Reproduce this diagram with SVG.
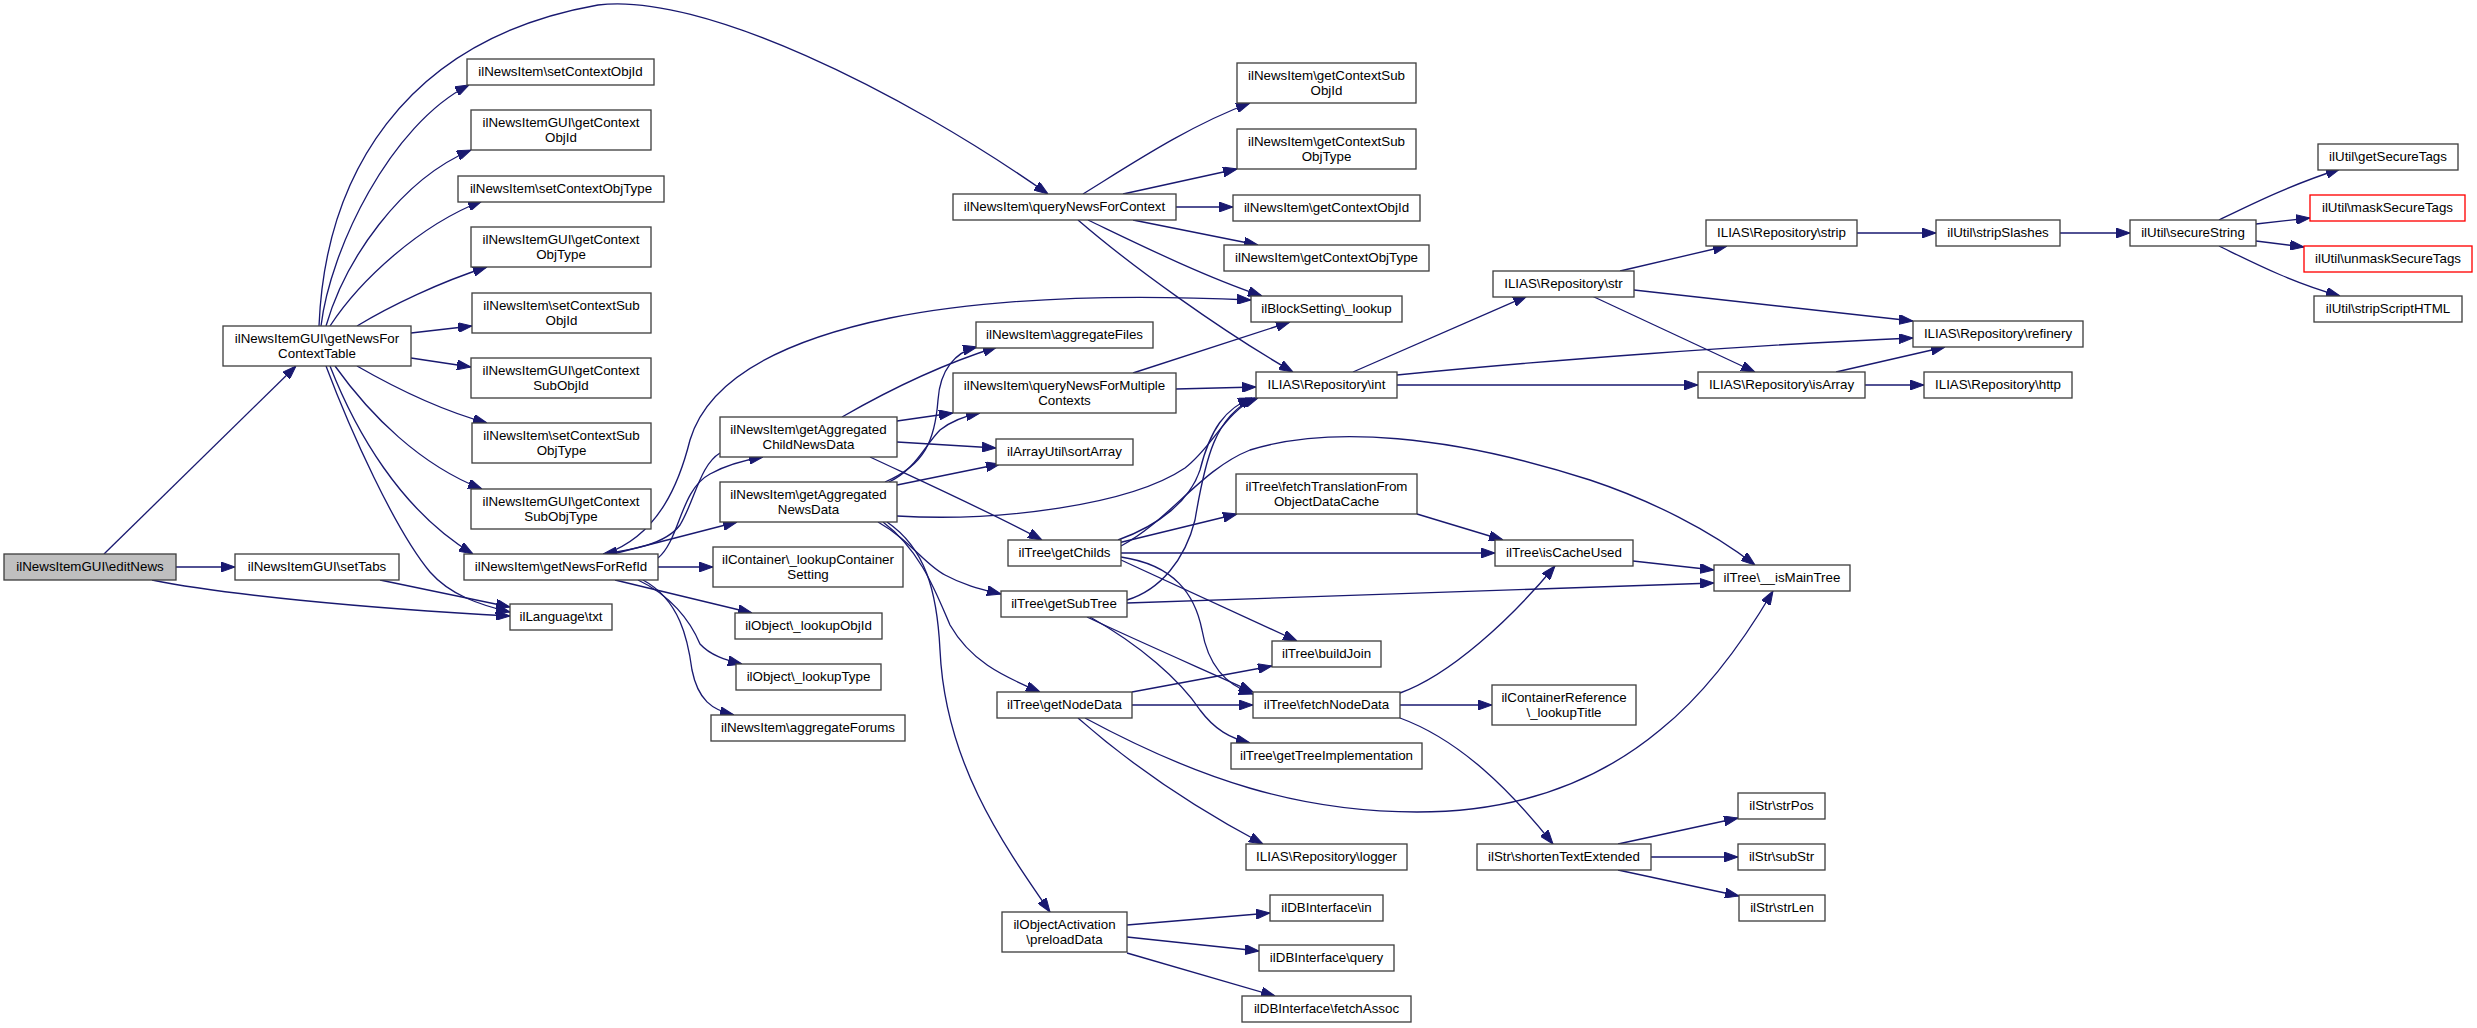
<svg xmlns="http://www.w3.org/2000/svg" width="2477" height="1028" viewBox="0 0 2477 1028">
<defs>
<style>
.n rect{fill:#fff;stroke:#404040;stroke-width:1.33}
.root rect{fill:#bfbfbf}
.red rect{stroke:#ff0000}
.n text{font-family:"Liberation Sans",Arial,Helvetica,sans-serif;font-size:13.33px;text-anchor:middle;fill:#000}
#edges path{fill:none;stroke:#191970;stroke-width:1.33;marker-end:url(#arr)}
</style>
<marker id="arr" markerUnits="userSpaceOnUse" markerWidth="14" markerHeight="10" refX="14" refY="5" orient="auto" viewBox="0 0 14 10">
<path d="M0,0L14,5L0,10z" fill="#191970" stroke="#191970" stroke-width="1"/>
</marker>
</defs>
<rect width="2477" height="1028" fill="#fff"/>
<g id="edges">
<path d="M104,554 L296,366"/>
<path d="M176,567 L235,567"/>
<path d="M152,580 C220,594 360,608 510,616"/>
<path d="M380,580 L510,607"/>
<path d="M326,366 C350,430 395,530 430,572 C450,595 480,605 510,612"/>
<path d="M330,366 C355,430 400,510 473,554"/>
<path d="M335,366 C370,415 420,465 482,489"/>
<path d="M357,366 C390,385 440,410 487,423"/>
<path d="M411,358 L471,367"/>
<path d="M411,333 L472,326"/>
<path d="M357,326 C390,306 440,282 487,267"/>
<path d="M330,326 C360,280 420,225 482,201"/>
<path d="M326,326 C345,260 400,180 471,150"/>
<path d="M321,326 C330,250 390,125 469,85"/>
<path d="M319,326 C325,180 400,40 598,5 C700,-8 900,90 1048,194"/>
<path d="M658,558 C680,540 680,490 710,474 C728,464 745,460 763,457"/>
<path d="M720,453 C700,465 695,500 680,525 C665,545 630,550 603,554"/>
<path d="M605,554 C660,535 680,480 690,440 C705,390 760,345 890,318 C980,300 1100,293 1251,300"/>
<path d="M613,554 L737,522"/>
<path d="M658,567 L713,567"/>
<path d="M615,580 L752,613"/>
<path d="M638,580 C670,595 690,620 700,644 C710,655 725,660 742,664"/>
<path d="M643,580 C680,600 688,640 692,670 C698,700 712,710 734,715"/>
<path d="M842,417 C875,398 930,368 997,347"/>
<path d="M897,421 L953,413"/>
<path d="M897,442 L996,448"/>
<path d="M870,457 C930,485 990,512 1042,540"/>
<path d="M885,482 C925,465 935,440 938,400 C940,370 955,352 977,347"/>
<path d="M889,482 C915,470 925,445 940,430 C950,422 965,416 980,413"/>
<path d="M897,485 L1000,464"/>
<path d="M897,516 C1000,522 1130,505 1185,468 C1215,445 1225,410 1258,398"/>
<path d="M878,522 C910,540 925,565 945,575 C965,586 985,590 1001,594"/>
<path d="M883,522 C920,550 935,590 950,625 C970,660 1000,675 1040,692"/>
<path d="M887,522 C925,548 937,590 940,650 C945,760 1000,840 1050,912"/>
<path d="M1083,194 C1130,165 1190,125 1250,103"/>
<path d="M1123,194 L1237,169"/>
<path d="M1176,207 L1233,207"/>
<path d="M1133,220 L1258,245"/>
<path d="M1088,220 C1130,240 1200,275 1262,296"/>
<path d="M1078,220 C1130,265 1220,330 1293,372"/>
<path d="M1133,373 L1290,322"/>
<path d="M1176,389 L1256,387"/>
<path d="M1353,372 L1527,296"/>
<path d="M1397,375 C1550,360 1750,345 1913,338"/>
<path d="M1397,385 L1698,385"/>
<path d="M1620,271 L1727,246"/>
<path d="M1634,290 L1913,321"/>
<path d="M1592,296 L1755,372"/>
<path d="M1857,233 L1936,233"/>
<path d="M2060,233 L2130,233"/>
<path d="M2219,220 C2250,205 2290,185 2340,169"/>
<path d="M2256,224 L2310,218"/>
<path d="M2256,241 L2304,247"/>
<path d="M2219,246 C2250,261 2290,282 2340,296"/>
<path d="M1836,372 L1945,347"/>
<path d="M1865,385 L1924,385"/>
<path d="M1118,540 C1160,525 1190,500 1200,470 C1210,430 1225,408 1252,398"/>
<path d="M1118,543 L1237,514"/>
<path d="M1121,553 L1495,553"/>
<path d="M1121,546 C1170,520 1200,470 1250,450 C1330,425 1450,435 1590,480 C1650,500 1710,530 1755,565"/>
<path d="M1121,560 L1297,641"/>
<path d="M1121,557 C1175,565 1195,595 1202,630 C1208,665 1225,685 1253,694"/>
<path d="M1127,600 C1160,590 1185,560 1195,520 C1205,460 1215,415 1255,398"/>
<path d="M1127,603 L1714,583"/>
<path d="M1087,617 C1140,642 1200,668 1253,692"/>
<path d="M1090,617 C1140,645 1180,680 1200,710 C1215,730 1230,738 1250,743"/>
<path d="M1132,692 L1272,666"/>
<path d="M1132,705 L1253,705"/>
<path d="M1085,718 C1200,780 1300,812 1417,812 C1520,812 1600,780 1660,730 C1710,690 1750,630 1773,591"/>
<path d="M1078,718 C1120,755 1180,800 1263,844"/>
<path d="M1417,514 L1503,540"/>
<path d="M1400,693 C1450,675 1510,620 1555,566"/>
<path d="M1400,705 L1492,705"/>
<path d="M1400,718 C1460,740 1510,790 1553,844"/>
<path d="M1633,561 L1714,570"/>
<path d="M1618,844 L1738,818"/>
<path d="M1651,857 L1738,857"/>
<path d="M1618,870 L1739,896"/>
<path d="M1127,925 L1270,913"/>
<path d="M1127,937 L1259,951"/>
<path d="M1127,953 L1275,996"/>
</g>
<g id="n_editNews" class="n root"><rect x="4" y="554" width="172" height="26"/><text x="90" y="571">ilNewsItemGUI\editNews</text></g>
<g id="n_setTabs" class="n"><rect x="235" y="554" width="164" height="26"/><text x="317" y="571">ilNewsItemGUI\setTabs</text></g>
<g id="n_getNewsForContextTable" class="n"><rect x="223" y="326" width="188" height="40"/><text x="317" y="343">ilNewsItemGUI\getNewsFor</text><text x="317" y="358">ContextTable</text></g>
<g id="n_setContextObjId" class="n"><rect x="467" y="59" width="187" height="26"/><text x="560.5" y="76">ilNewsItem\setContextObjId</text></g>
<g id="n_guiGetContextObjId" class="n"><rect x="471" y="110" width="180" height="40"/><text x="561" y="127">ilNewsItemGUI\getContext</text><text x="561" y="142">ObjId</text></g>
<g id="n_setContextObjType" class="n"><rect x="458" y="176" width="206" height="26"/><text x="561" y="193">ilNewsItem\setContextObjType</text></g>
<g id="n_guiGetContextObjType" class="n"><rect x="471" y="227" width="180" height="40"/><text x="561" y="244">ilNewsItemGUI\getContext</text><text x="561" y="259">ObjType</text></g>
<g id="n_setContextSubObjId" class="n"><rect x="472" y="293" width="179" height="40"/><text x="561.5" y="310">ilNewsItem\setContextSub</text><text x="561.5" y="325">ObjId</text></g>
<g id="n_guiGetContextSubObjId" class="n"><rect x="471" y="358" width="180" height="40"/><text x="561" y="375">ilNewsItemGUI\getContext</text><text x="561" y="390">SubObjId</text></g>
<g id="n_setContextSubObjType" class="n"><rect x="472" y="423" width="179" height="40"/><text x="561.5" y="440">ilNewsItem\setContextSub</text><text x="561.5" y="455">ObjType</text></g>
<g id="n_guiGetContextSubObjType" class="n"><rect x="471" y="489" width="180" height="40"/><text x="561" y="506">ilNewsItemGUI\getContext</text><text x="561" y="521">SubObjType</text></g>
<g id="n_getNewsForRefId" class="n"><rect x="464" y="554" width="194" height="26"/><text x="561" y="571">ilNewsItem\getNewsForRefId</text></g>
<g id="n_txt" class="n"><rect x="510" y="604" width="102" height="26"/><text x="561" y="621">ilLanguage\txt</text></g>
<g id="n_getAggregatedChildNewsData" class="n"><rect x="720" y="417" width="177" height="40"/><text x="808.5" y="434">ilNewsItem\getAggregated</text><text x="808.5" y="449">ChildNewsData</text></g>
<g id="n_getAggregatedNewsData" class="n"><rect x="720" y="482" width="177" height="40"/><text x="808.5" y="499">ilNewsItem\getAggregated</text><text x="808.5" y="514">NewsData</text></g>
<g id="n_lookupContainerSetting" class="n"><rect x="713" y="547" width="190" height="40"/><text x="808" y="564">ilContainer\_lookupContainer</text><text x="808" y="579">Setting</text></g>
<g id="n_lookupObjId" class="n"><rect x="735" y="613" width="147" height="26"/><text x="808.5" y="630">ilObject\_lookupObjId</text></g>
<g id="n_lookupType" class="n"><rect x="736" y="664" width="145" height="26"/><text x="808.5" y="681">ilObject\_lookupType</text></g>
<g id="n_aggregateForums" class="n"><rect x="711" y="715" width="194" height="26"/><text x="808" y="732">ilNewsItem\aggregateForums</text></g>
<g id="n_queryNewsForContext" class="n"><rect x="953" y="194" width="223" height="26"/><text x="1064.5" y="211">ilNewsItem\queryNewsForContext</text></g>
<g id="n_aggregateFiles" class="n"><rect x="976" y="322" width="177" height="26"/><text x="1064.5" y="339">ilNewsItem\aggregateFiles</text></g>
<g id="n_queryNewsForMultipleContexts" class="n"><rect x="953" y="373" width="223" height="40"/><text x="1064.5" y="390">ilNewsItem\queryNewsForMultiple</text><text x="1064.5" y="405">Contexts</text></g>
<g id="n_sortArray" class="n"><rect x="996" y="439" width="137" height="26"/><text x="1064.5" y="456">ilArrayUtil\sortArray</text></g>
<g id="n_getChilds" class="n"><rect x="1008" y="540" width="113" height="26"/><text x="1064.5" y="557">ilTree\getChilds</text></g>
<g id="n_getSubTree" class="n"><rect x="1001" y="591" width="126" height="26"/><text x="1064" y="608">ilTree\getSubTree</text></g>
<g id="n_getNodeData" class="n"><rect x="997" y="692" width="135" height="26"/><text x="1064.5" y="709">ilTree\getNodeData</text></g>
<g id="n_preloadData" class="n"><rect x="1002" y="912" width="125" height="40"/><text x="1064.5" y="929">ilObjectActivation</text><text x="1064.5" y="944">\preloadData</text></g>
<g id="n_getContextSubObjId" class="n"><rect x="1237" y="63" width="179" height="40"/><text x="1326.5" y="80">ilNewsItem\getContextSub</text><text x="1326.5" y="95">ObjId</text></g>
<g id="n_getContextSubObjType" class="n"><rect x="1237" y="129" width="179" height="40"/><text x="1326.5" y="146">ilNewsItem\getContextSub</text><text x="1326.5" y="161">ObjType</text></g>
<g id="n_getContextObjId" class="n"><rect x="1233" y="195" width="187" height="26"/><text x="1326.5" y="212">ilNewsItem\getContextObjId</text></g>
<g id="n_getContextObjType" class="n"><rect x="1224" y="245" width="205" height="26"/><text x="1326.5" y="262">ilNewsItem\getContextObjType</text></g>
<g id="n_blockSettingLookup" class="n"><rect x="1251" y="296" width="151" height="26"/><text x="1326.5" y="313">ilBlockSetting\_lookup</text></g>
<g id="n_int" class="n"><rect x="1256" y="372" width="141" height="26"/><text x="1326.5" y="389">ILIAS\Repository\int</text></g>
<g id="n_fetchTranslation" class="n"><rect x="1236" y="474" width="181" height="40"/><text x="1326.5" y="491">ilTree\fetchTranslationFrom</text><text x="1326.5" y="506">ObjectDataCache</text></g>
<g id="n_buildJoin" class="n"><rect x="1272" y="641" width="109" height="26"/><text x="1326.5" y="658">ilTree\buildJoin</text></g>
<g id="n_fetchNodeData" class="n"><rect x="1253" y="692" width="147" height="26"/><text x="1326.5" y="709">ilTree\fetchNodeData</text></g>
<g id="n_getTreeImplementation" class="n"><rect x="1231" y="743" width="191" height="26"/><text x="1326.5" y="760">ilTree\getTreeImplementation</text></g>
<g id="n_logger" class="n"><rect x="1246" y="844" width="161" height="26"/><text x="1326.5" y="861">ILIAS\Repository\logger</text></g>
<g id="n_dbIn" class="n"><rect x="1270" y="895" width="113" height="26"/><text x="1326.5" y="912">ilDBInterface\in</text></g>
<g id="n_dbQuery" class="n"><rect x="1259" y="945" width="135" height="26"/><text x="1326.5" y="962">ilDBInterface\query</text></g>
<g id="n_dbFetchAssoc" class="n"><rect x="1242" y="996" width="169" height="26"/><text x="1326.5" y="1013">ilDBInterface\fetchAssoc</text></g>
<g id="n_str" class="n"><rect x="1493" y="271" width="141" height="26"/><text x="1563.5" y="288">ILIAS\Repository\str</text></g>
<g id="n_isCacheUsed" class="n"><rect x="1495" y="540" width="138" height="26"/><text x="1564" y="557">ilTree\isCacheUsed</text></g>
<g id="n_lookupTitle" class="n"><rect x="1492" y="685" width="144" height="40"/><text x="1564" y="702">ilContainerReference</text><text x="1564" y="717">\_lookupTitle</text></g>
<g id="n_shortenTextExtended" class="n"><rect x="1477" y="844" width="174" height="26"/><text x="1564" y="861">ilStr\shortenTextExtended</text></g>
<g id="n_strip" class="n"><rect x="1706" y="220" width="151" height="26"/><text x="1781.5" y="237">ILIAS\Repository\strip</text></g>
<g id="n_isArray" class="n"><rect x="1698" y="372" width="167" height="26"/><text x="1781.5" y="389">ILIAS\Repository\isArray</text></g>
<g id="n_isMainTree" class="n"><rect x="1714" y="565" width="136" height="26"/><text x="1782" y="582">ilTree\__isMainTree</text></g>
<g id="n_strPos" class="n"><rect x="1738" y="793" width="87" height="26"/><text x="1781.5" y="810">ilStr\strPos</text></g>
<g id="n_subStr" class="n"><rect x="1738" y="844" width="87" height="26"/><text x="1781.5" y="861">ilStr\subStr</text></g>
<g id="n_strLen" class="n"><rect x="1739" y="895" width="86" height="26"/><text x="1782" y="912">ilStr\strLen</text></g>
<g id="n_stripSlashes" class="n"><rect x="1936" y="220" width="124" height="26"/><text x="1998" y="237">ilUtil\stripSlashes</text></g>
<g id="n_refinery" class="n"><rect x="1913" y="321" width="170" height="26"/><text x="1998" y="338">ILIAS\Repository\refinery</text></g>
<g id="n_http" class="n"><rect x="1924" y="372" width="148" height="26"/><text x="1998" y="389">ILIAS\Repository\http</text></g>
<g id="n_secureString" class="n"><rect x="2130" y="220" width="126" height="26"/><text x="2193" y="237">ilUtil\secureString</text></g>
<g id="n_getSecureTags" class="n"><rect x="2318" y="144" width="140" height="26"/><text x="2388" y="161">ilUtil\getSecureTags</text></g>
<g id="n_maskSecureTags" class="n red"><rect x="2310" y="195" width="155" height="26"/><text x="2387.5" y="212">ilUtil\maskSecureTags</text></g>
<g id="n_unmaskSecureTags" class="n red"><rect x="2304" y="246" width="168" height="26"/><text x="2388" y="263">ilUtil\unmaskSecureTags</text></g>
<g id="n_stripScriptHTML" class="n"><rect x="2314" y="296" width="148" height="26"/><text x="2388" y="313">ilUtil\stripScriptHTML</text></g>
</svg>
